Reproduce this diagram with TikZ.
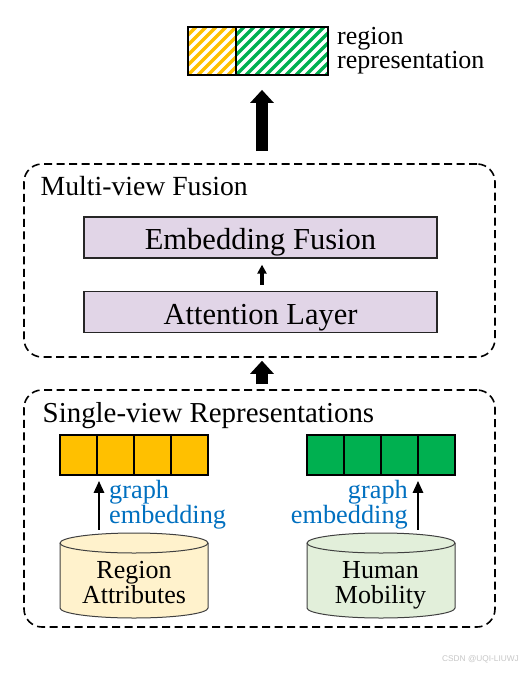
\documentclass[tikz,border=0pt]{standalone}
\usepackage{fontspec}
\setmainfont{Liberation Serif}
\newfontfamily\wmfont{Liberation Sans}
\usetikzlibrary{arrows.meta}
\definecolor{lav}{HTML}{E1D5E7}
\definecolor{gold}{HTML}{FFC000}
\definecolor{grn}{HTML}{00B050}
\definecolor{cylY}{HTML}{FFF2CC}
\definecolor{cylG}{HTML}{E2EFDA}
\definecolor{blu}{HTML}{0070C0}
\tikzset{
  x=1pt, y=-1pt,
  group/.style={draw, dash pattern=on 8pt off 4.5pt, line width=1.6pt, rounded corners=18pt, inner sep=0},
  layer/.style={draw=black!85, line width=1.3pt, fill=lav, inner sep=0,
    minimum width=353pt, minimum height=41pt, text height=24pt, text depth=0pt,
    font=\fontsize{30.5}{30.5}\selectfont},
  cell/.style={draw, line width=1.6pt, minimum width=37pt, minimum height=40pt, inner sep=0},
  repcell/.style={draw, line width=1.8pt, minimum height=48pt, inner sep=0},
  lbl/.style={inner sep=0, anchor=base west},
  bigarrow/.style={line width=12pt, -{Triangle[length=13pt,width=23pt]}},
  midarrow/.style={line width=3.2pt, -{Triangle[length=9pt,width=9pt]}},
  thinarrow/.style={line width=2.6pt, -{Triangle[length=12pt,width=10pt]}},
  cyl/.style={draw=black!75, line width=1pt},
  hatch/.style={line width=3.5pt},
}
\begin{document}
\begin{tikzpicture}
\useasboundingbox[fill=white] (0,0) rectangle (526,673);

% ---- top region representation ----
\begin{scope}
  \clip (188,27) rectangle (236,75);
  \foreach \i in {-6,...,5} \draw[gold, hatch] (188+\i*10,75) -- ++(48,-48);
\end{scope}
\begin{scope}
  \clip (236,27) rectangle (328,75);
  \foreach \i in {-6,...,10} \draw[grn, hatch] (236+\i*10,75) -- ++(48,-48);
\end{scope}
\node[repcell, minimum width=48pt] (ry) at (212,51) {};
\node[repcell, minimum width=92pt] (rg) at (282,51) {};
\node[inner sep=0, anchor=base west, align=left, font=\fontsize{26}{21.5}\selectfont] (rt) at (337,68.5) {region\\representation};

% ---- groups ----
\node[group, minimum width=471pt, minimum height=193pt] (mv) at (259.5,260.5) {};
\node[group, minimum width=471pt, minimum height=237pt] (sv) at (259.5,508.5) {};
\node[lbl, font=\fontsize{27.7}{27.7}\selectfont] (mvt) at (40.5,195) {Multi-view Fusion};
\node[lbl, font=\fontsize{28.9}{28.9}\selectfont] (svt) at (42.5,422.5) {Single-view Representations};

% ---- fusion layers ----
\node[layer] (emb) at (260.5,237.5) {Embedding Fusion};
\node[layer] (att) at (260.5,312) {Attention Layer};

% ---- vectors ----
\node[cell, fill=gold] (y1) at (78.5,455) {};
\node[cell, fill=gold] (y2) at (115.5,455) {};
\node[cell, fill=gold] (y3) at (152.5,455) {};
\node[cell, fill=gold] (y4) at (189.5,455) {};
\node[cell, fill=grn] (g1) at (325.5,455) {};
\node[cell, fill=grn] (g2) at (362.5,455) {};
\node[cell, fill=grn] (g3) at (399.5,455) {};
\node[cell, fill=grn] (g4) at (436.5,455) {};

% ---- cylinders ----
\node[minimum width=148pt, minimum height=85pt, inner sep=0] (ra) at (134,575.5) {};
\node[minimum width=148pt, minimum height=85pt, inner sep=0] (hm) at (381,575.5) {};
\path[cyl, fill=cylY] (60,543) -- (60,608)
  arc[start angle=180, end angle=360, x radius=74pt, y radius=10pt] -- (208,543)
  arc[start angle=0, end angle=180, x radius=74pt, y radius=10pt] -- cycle;
\draw[cyl] (60,543) arc[start angle=180, end angle=360, x radius=74pt, y radius=10pt];
\path[cyl, fill=cylG] (307,543) -- (307,608)
  arc[start angle=180, end angle=360, x radius=74pt, y radius=10pt] -- (455,543)
  arc[start angle=0, end angle=180, x radius=74pt, y radius=10pt] -- cycle;
\draw[cyl] (307,543) arc[start angle=180, end angle=360, x radius=74pt, y radius=10pt];

\node[inner sep=0, anchor=base, font=\fontsize{26}{26}\selectfont] (ra1) at (134,578) {Region};
\node[inner sep=0, anchor=base, font=\fontsize{26}{26}\selectfont] (ra2) at (134,603) {Attributes};
\node[inner sep=0, anchor=base, font=\fontsize{26}{26}\selectfont] (hm1) at (380.5,578) {Human};
\node[inner sep=0, anchor=base, font=\fontsize{26}{26}\selectfont] (hm2) at (380.5,603) {Mobility};

% ---- graph embedding labels ----
\node[lbl, text=blu, font=\fontsize{26.3}{26.3}\selectfont] (ge1) at (109,498) {graph};
\node[lbl, text=blu, font=\fontsize{26.3}{26.3}\selectfont] (ge2) at (109,523) {embedding};
\node[inner sep=0, anchor=base east, text=blu, font=\fontsize{26.3}{26.3}\selectfont] (ge3) at (408,498) {graph};
\node[inner sep=0, anchor=base east, text=blu, font=\fontsize{26.3}{26.3}\selectfont] (ge4) at (408,523) {embedding};

% ---- connectors ----
\coordinate (ax) at (262,0);
\coordinate (lx) at (99,0);
\coordinate (rx) at (418,0);
\draw[bigarrow, shorten <=12pt, shorten >=14pt] (ax |- mv.north) -- (ax |- rg.south);
\draw[bigarrow, shorten <=5pt, shorten >=3pt] (ax |- sv.north) -- (ax |- mv.south);
\draw[midarrow, shorten <=6pt, shorten >=6pt] (ax |- att.north) -- (ax |- emb.south);
\draw[thinarrow, shorten <=3pt, shorten >=5pt] (lx |- ra.north) -- (lx |- y2.south);
\draw[thinarrow, shorten <=3pt, shorten >=5pt] (rx |- hm.north) -- (rx |- g3.south);

% ---- watermark ----
\node[lbl, text=black!22, font=\wmfont\fontsize{8.3}{8.3}\selectfont] (wm) at (442,661) {CSDN @UQI-LIUWJ};
\end{tikzpicture}
\end{document}
